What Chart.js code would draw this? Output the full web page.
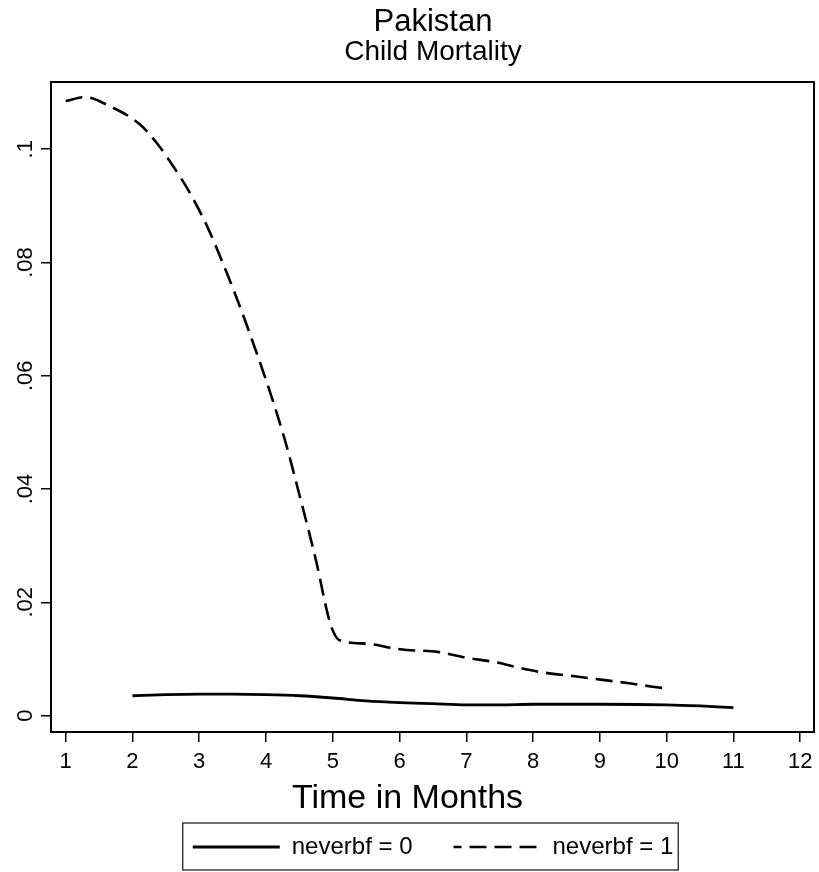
<!DOCTYPE html>
<html lang="en">
<head>
  <meta charset="UTF-8" />
  <title>Pakistan - Child Mortality</title>
  <script src="https://cdn.jsdelivr.net/npm/chart.js"></script>
  <style>
    body { margin: 0; background: #fff; }
    #wrap { width: 819px; height: 872px; position: relative; }
  </style>
</head>
<body>
  <div id="wrap"><canvas id="chart"></canvas></div>
  <script>
    // neverbf = 0 (solid)
    const months0 = [2, 2.5, 3, 3.5, 4, 4.5, 5, 5.5, 6, 6.5, 7, 7.5, 8, 9, 10, 10.5, 11];
    const mort0 = [0.0035, 0.0037, 0.0038, 0.0038, 0.0037, 0.0035, 0.0031, 0.0026, 0.0023, 0.0021, 0.0019, 0.0019, 0.0020, 0.0020, 0.0019, 0.0017, 0.0014];

    // neverbf = 1 (dashed)
    const months1 = [1, 1.29, 1.66, 2.11, 2.37, 2.61, 2.86, 3.11, 3.35, 3.71, 4.25, 4.5, 4.76, 4.91, 4.98, 5.1, 5.51, 6, 6.6, 7, 7.45, 7.84, 8.1, 8.65, 9.04, 9.44, 9.79, 10];
    const mort1 = [0.1085, 0.1092, 0.1076, 0.1044, 0.1010, 0.0970, 0.0923, 0.0866, 0.0800, 0.0690, 0.0500, 0.0390, 0.0268, 0.0186, 0.0156, 0.0133, 0.0127, 0.0117, 0.0112, 0.0102, 0.0094, 0.0083, 0.0077, 0.0069, 0.0063, 0.0057, 0.0051, 0.0048];

    const seriesNames = ['neverbf = 0', 'neverbf = 1'];
    const xTicks = [1, 2, 3, 4, 5, 6, 7, 8, 9, 10, 11, 12];
    const yTicks = [0, 0.02, 0.04, 0.06, 0.08, 0.1];
    const yTickLabels = ['0', '.02', '.04', '.06', '.08', '.1'];
    const xTitleText = 'Time in Months';

    const FONT = "'Liberation Sans', Arial, Helvetica, sans-serif";
    Chart.defaults.color = '#000';
    Chart.defaults.font.family = FONT;

    // box round the legend
    const legendBox = {
      id: 'legendBox',
      afterDraw(chart) {
        const hb = chart.legend && chart.legend.legendHitBoxes;
        if (!hb || !hb.length) return;
        const first = hb[0], last = hb[hb.length - 1];
        const cy = first.top + first.height / 2;
        const ctx = chart.ctx;
        ctx.save();
        ctx.strokeStyle = '#222';
        ctx.lineWidth = 1.3;
        ctx.strokeRect(first.left - 10, cy - 24, last.left + last.width + 5 - (first.left - 10), 47);
        ctx.restore();
      }
    };

    // x axis title, centred on the whole graph like the original
    const xTitle = {
      id: 'xTitle',
      afterDraw(chart) {
        const ctx = chart.ctx;
        ctx.save();
        ctx.font = '34px ' + FONT;
        ctx.fillStyle = '#000';
        ctx.textAlign = 'center';
        ctx.textBaseline = 'alphabetic';
        ctx.fillText(xTitleText, chart.width / 2 - 2, chart.scales.x.top + 76);
        ctx.restore();
      }
    };

    const toPoints = (xs, ys) => xs.map((x, i) => ({ x: x, y: ys[i] }));

    new Chart(document.getElementById('chart').getContext('2d'), {
      type: 'line',
      data: {
        datasets: [{
          label: seriesNames[0],
          data: toPoints(months0, mort0),
          borderColor: '#000',
          borderWidth: 2.8,
          pointRadius: 0,
          cubicInterpolationMode: 'monotone'
        }, {
          label: seriesNames[1],
          data: toPoints(months1, mort1),
          borderColor: '#000',
          borderWidth: 2.6,
          borderDash: [17, 8],
          pointRadius: 0,
          cubicInterpolationMode: 'monotone'
        }]
      },
      options: {
        responsive: true,
        maintainAspectRatio: false,
        animation: false,
        layout: { padding: { left: 0, right: -47, top: 0, bottom: 3 } },
        plugins: {
          title: {
            display: true,
            text: 'Pakistan',
            font: { size: 31, weight: 'normal', lineHeight: 1 },
            padding: { top: 7, bottom: 0 }
          },
          subtitle: {
            display: true,
            text: 'Child Mortality',
            font: { size: 28, weight: 'normal', lineHeight: 1 },
            padding: { top: 0, bottom: 0 }
          },
          legend: {
            position: 'bottom',
            labels: {
              usePointStyle: true,
              pointStyle: 'line',
              pointStyleWidth: 87,
              padding: 41,
              font: { size: 24 },
              generateLabels: chart => Chart.defaults.plugins.legend.labels.generateLabels(chart).map(item => {
                const ds = chart.data.datasets[item.datasetIndex];
                return Object.assign(item, {
                  lineDash: ds.borderDash || [],
                  lineDashOffset: 9,
                  lineWidth: ds.borderWidth,
                  strokeStyle: ds.borderColor
                });
              })
            }
          },
          tooltip: { enabled: false }
        },
        scales: {
          x: {
            type: 'linear',
            position: 'bottom',
            min: 0.78,
            max: 12.21,
            afterBuildTicks: s => { s.ticks = xTicks.map(v => ({ value: v })); },
            afterFit: s => { s.height = 62; },
            ticks: { padding: 6.5, font: { size: 22, lineHeight: 1.2 }, callback: v => String(v) },
            grid: { display: true, drawOnChartArea: false, drawTicks: true, tickLength: 10, color: '#000', lineWidth: 1.5 },
            border: { display: true, color: '#000', width: 2 }
          },
          y: {
            type: 'linear',
            position: 'left',
            min: -0.0029,
            max: 0.1118,
            afterBuildTicks: s => { s.ticks = yTicks.map(v => ({ value: v })); },
            afterFit: s => { s.width = 51; },
            ticks: {
              minRotation: 90,
              maxRotation: 90,
              crossAlign: 'center',
              padding: 0,
              font: { size: 22 },
              callback: v => yTickLabels[yTicks.indexOf(v)]
            },
            grid: { display: true, drawOnChartArea: false, drawTicks: true, tickLength: 10, color: '#000', lineWidth: 1.5 },
            border: { display: true, color: '#000', width: 2 }
          },
          x2: {
            type: 'linear',
            position: 'top',
            afterFit: s => { s.height = 16.4; },
            ticks: { display: false },
            grid: { display: false },
            border: { display: true, color: '#000', width: 2 }
          },
          y2: {
            type: 'linear',
            position: 'right',
            afterFit: s => { s.width = 51; },
            ticks: { display: false },
            grid: { display: false },
            border: { display: true, color: '#000', width: 2 }
          }
        }
      },
      plugins: [legendBox, xTitle]
    });
  </script>
</body>
</html>
